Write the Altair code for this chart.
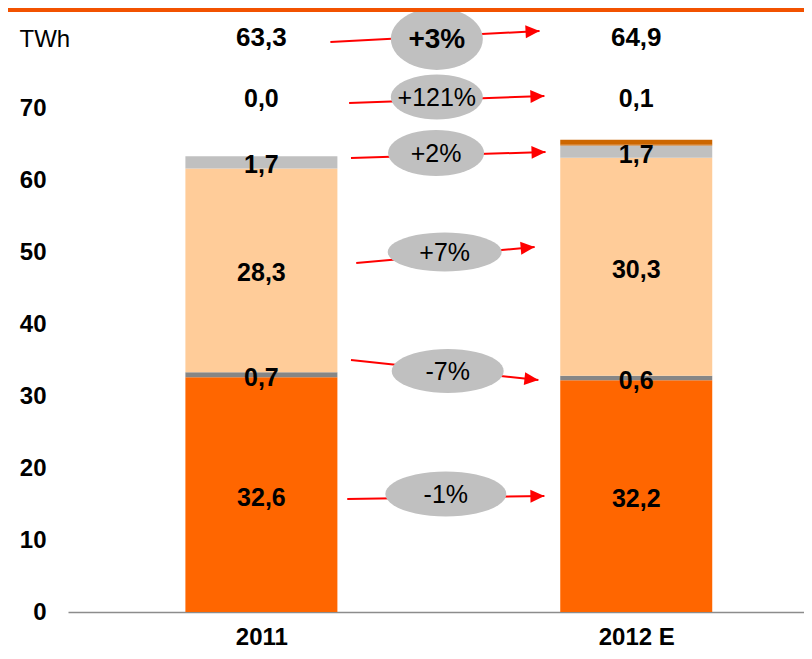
import math
import altair as alt
import pandas as pd

# ---------------- data ----------------
years = ["2011", "2012 E"]
year_pos = [0, 1]
segments = ["s1", "s2", "s3", "s4", "s5"]          # bottom -> top
values_2011 = [32.6, 0.7, 28.3, 1.7, 0.0]
values_2012 = [32.2, 0.6, 30.3, 1.7, 0.1]
totals = [63.3, 64.9]
change_labels = ["+3%", "+121%", "+2%", "+7%", "-7%", "-1%"]
y_ticks = [0, 10, 20, 30, 40, 50, 60, 70]

# ---------------- styles / layout ----------------
FONT = "Liberation Sans"
seg_colors = ["#FF6600", "#868686", "#FFCC99", "#C0C0C0", "#CC6600"]
W, H = 736, 604
xscale = alt.Scale(domain=[-0.5026, 1.4342], nice=False, zero=False)
yscale = alt.Scale(domain=[0, 83.89], nice=False, zero=False)
PX_X = W / (1.4342 + 0.5026)
PX_Y = H / 83.89
row_small_y = 71.5     # row of the small top-segment values
row_total_y = 80.0     # row of the totals

# annotation layout: ellipse centre (ex, ey), ellipse size (w, h px), arrow from (ax, ay) to (bx, by)
ann_layout = [
    dict(ex=0.468, ey=79.60, w=92, h=62, ax=0.184, ay=79.17, bx=0.742, by=80.69),
    dict(ex=0.468, ey=71.53, w=92, h=45, ax=0.234, ay=70.69, bx=0.755, by=71.67),
    dict(ex=0.466, ey=63.75, w=96, h=46, ax=0.239, ay=63.06, bx=0.758, by=63.89),
    dict(ex=0.489, ey=50.00, w=114, h=39, ax=0.253, ay=48.47, bx=0.729, by=50.69),
    dict(ex=0.497, ey=33.47, w=112, h=44, ax=0.239, ay=35.00, bx=0.739, by=32.22),
    dict(ex=0.492, ey=16.39, w=121, h=45, ax=0.229, ay=15.69, bx=0.755, by=16.11),
]
pct_sizes = [28, 25, 25, 25, 25, 25]


def ellipse_path(ratio, n=48):
    pts = []
    for i in range(n):
        t = 2 * math.pi * i / n
        pts.append(f"{math.cos(t):.4f},{ratio * math.sin(t):.4f}")
    return "M" + " L".join(pts) + " Z"


ARROW_PATH = "M0,0 L-1,-0.46 L-1,0.46 Z"

# ---------------- tables ----------------
rows = []
for pos, yr, vals in zip(year_pos, years, [values_2011, values_2012]):
    cum = 0.0
    for seg, v in zip(segments, vals):
        rows.append(dict(pos=pos, year=yr, segment=seg, value=v, y0=cum, y1=cum + v))
        cum += v
bars = pd.DataFrame(rows)

top_rows = pd.DataFrame(dict(pos=year_pos, total=totals,
                             small=[values_2011[-1], values_2012[-1]],
                             ty=[row_total_y] * 2, sy=[row_small_y] * 2))

ann = pd.DataFrame(ann_layout)
ann["label"] = change_labels
ann["bold"] = [True, False, False, False, False, False]
ann["fs"] = pct_sizes
ann["sz"] = ann["w"] ** 2
ann["path"] = [ellipse_path(h / w) for w, h in zip(ann["w"], ann["h"])]
ann["ang"] = [
    math.degrees(math.atan2(-(by - ay) * PX_Y, (bx - ax) * PX_X)) % 360
    for ax, ay, bx, by in zip(ann["ax"], ann["ay"], ann["bx"], ann["by"])
]

# ---------------- axes ----------------
xaxis = alt.Axis(values=[0, 1], labelExpr="datum.value == 0 ? '2011' : '2012 E'",
                 title=None, grid=False, ticks=False, tickSize=0,
                 domain=True, domainColor="#8C8C8C", domainWidth=1.5,
                 labelFont=FONT, labelFontSize=24, labelFontWeight="bold",
                 labelColor="black", labelPadding=13)
yaxis = alt.Axis(values=y_ticks, title="TWh", titleAngle=0, titleX=-49, titleY=31,
                 titleAlign="left", titleBaseline="middle", titleFont=FONT,
                 titleFontSize=24, titleFontWeight="normal", titleColor="black",
                 grid=False, ticks=False, tickSize=0, domain=False,
                 labelFont=FONT, labelFontSize=24, labelFontWeight="bold",
                 labelColor="black", labelPadding=22)


def X(f):
    return alt.X(f, type="quantitative", scale=xscale, axis=xaxis)


def Y(f):
    return alt.Y(f, type="quantitative", scale=yscale, axis=yaxis)


fmt = "replace(format(datum.{f}, '.1f'), '.', ',')"

bar_layer = alt.Chart(bars).mark_bar(size=152).encode(
    x=X("pos"), y=Y("y0"), y2="y1",
    color=alt.Color("segment:N", scale=alt.Scale(domain=segments, range=seg_colors), legend=None),
)

top_seg = alt.Chart(bars).transform_filter(
    "datum.segment == 's5' && datum.value > 0"
).mark_tick(orient="horizontal", size=152, thickness=5, yOffset=-2.5, color="#CC6600", opacity=1).encode(
    x=X("pos"), y=Y("y1")
)

seg_labels = alt.Chart(bars).transform_filter(
    "datum.segment != 's5'"
).transform_calculate(
    mid="(datum.y0 + datum.y1) / 2", txt=fmt.format(f="value")
).mark_text(font=FONT, fontSize=25, fontWeight="bold", color="black", baseline="middle", dy=3).encode(
    x=X("pos"), y=Y("mid:Q"), text="txt:N"
)

total_labels = alt.Chart(top_rows).transform_calculate(txt=fmt.format(f="total")).mark_text(
    font=FONT, fontSize=26, fontWeight="bold", color="black", baseline="middle", dy=1.5
).encode(x=X("pos"), y=Y("ty"), text="txt:N")

small_labels = alt.Chart(top_rows).transform_calculate(txt=fmt.format(f="small")).mark_text(
    font=FONT, fontSize=25, fontWeight="bold", color="black", baseline="middle", dy=2
).encode(x=X("pos"), y=Y("sy"), text="txt:N")

arrows = alt.Chart(ann).mark_rule(color="#FF0000", strokeWidth=2).encode(
    x=X("ax"), y=Y("ay"), x2="bx", y2="by"
)
heads = alt.Chart(ann).mark_point(filled=True, color="#FF0000", opacity=1, shape=ARROW_PATH, size=784).encode(
    x=X("bx"), y=Y("by"), angle=alt.Angle("ang:Q", scale=None)
)
ellipses = alt.Chart(ann).mark_point(filled=True, color="#C0C0C0", opacity=1, strokeWidth=0).encode(
    x=X("ex"), y=Y("ey"),
    shape=alt.Shape("path:N", scale=None),
    size=alt.Size("sz:Q", scale=None),
)
pct_regular = alt.Chart(ann).transform_filter("!datum.bold").mark_text(
    font=FONT, fontSize=25, color="black", baseline="middle", dy=1
).encode(x=X("ex"), y=Y("ey"), text="label:N")
pct_bold = alt.Chart(ann).transform_filter("datum.bold").mark_text(
    font=FONT, fontSize=28, fontWeight="bold", color="black", baseline="middle", dy=1
).encode(x=X("ex"), y=Y("ey"), text="label:N")

band = alt.Chart(pd.DataFrame({"k": [0]})).mark_rect(color="#F25200").encode(
    x=alt.value(-60), x2=alt.value(W), y=alt.value(0), y2=alt.value(4)
)

chart = alt.layer(
    bar_layer, top_seg, seg_labels, total_labels, small_labels,
    arrows, heads, ellipses, pct_regular, pct_bold, band
).properties(
    width=W, height=H,
    autosize=alt.AutoSizeParams(type="none"),
    padding={"left": 60, "top": 0, "right": 0, "bottom": 39},
).configure_view(strokeWidth=0)

chart.save("out.html", embed_options={"renderer": "svg", "actions": False})
